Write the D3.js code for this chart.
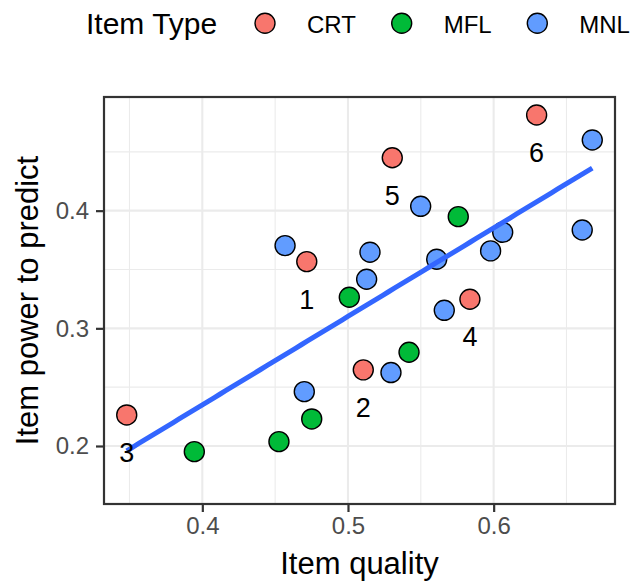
<!DOCTYPE html>
<html><head><meta charset="utf-8">
<script src="https://cdn.jsdelivr.net/npm/d3@7"></script>
<style>
body{margin:0;background:#fff;}
text{font-family:"Liberation Sans",Arial,Helvetica,sans-serif;}
</style></head>
<body><svg id="chart" width="634" height="582"></svg>
<script>
// ---- data ----
const itemTypes = ["CRT", "MFL", "MNL"];
const typeColors = ["#F8766D", "#00BA38", "#619CFF"];
const crtQuality = [0.4717, 0.5105, 0.3481, 0.5837, 0.5304, 0.6295];
const crtPower   = [0.3567, 0.2647, 0.2264, 0.3247, 0.4450, 0.4813];
const crtLabels  = ["1", "2", "3", "4", "5", "6"];
const mflQuality = [0.3945, 0.4526, 0.4751, 0.5009, 0.5419, 0.5757];
const mflPower   = [0.1952, 0.2037, 0.2230, 0.3264, 0.2797, 0.3949];
const mnlQuality = [0.4568, 0.4700, 0.5128, 0.5151, 0.5295, 0.5499, 0.5609, 0.5661, 0.5979, 0.6062, 0.6608, 0.6677];
const mnlPower   = [0.3703, 0.2462, 0.3417, 0.3647, 0.2624, 0.4037, 0.3587, 0.3153, 0.3658, 0.3816, 0.3836, 0.4601];
const xTicks = [0.4, 0.5, 0.6];
const xMinor = [0.35, 0.45, 0.55, 0.65];
const yTicks = [0.2, 0.3, 0.4];
const yMinor = [0.15, 0.25, 0.35, 0.45];
const xTitle = "Item quality";
const yTitle = "Item power to predict";
const legendTitle = "Item Type";

// ---- build points ----
const pts = [];
crtQuality.forEach((q, i) => pts.push({x: q, y: crtPower[i], type: "CRT", label: crtLabels[i]}));
mflQuality.forEach((q, i) => pts.push({x: q, y: mflPower[i], type: "MFL"}));
mnlQuality.forEach((q, i) => pts.push({x: q, y: mnlPower[i], type: "MNL"}));

const svg = d3.select("#chart");
const L = 104, R = 615, T = 97, B = 504;
const x = d3.scaleLinear().domain([0.3325, 0.6833]).range([L, R]);
const y = d3.scaleLinear().domain([0.1507, 0.4966]).range([B, T]);
const color = d3.scaleOrdinal().domain(itemTypes).range(typeColors);

// panel background & grid
svg.append("rect").attr("x", L).attr("y", T).attr("width", R - L).attr("height", B - T).attr("fill", "#fff");
const grid = svg.append("g");
xMinor.forEach(v => grid.append("line").attr("x1", x(v)).attr("x2", x(v)).attr("y1", T).attr("y2", B).attr("stroke", "#EBEBEB").attr("stroke-width", 1.1));
yMinor.filter(v => y(v) > T && y(v) < B).forEach(v => grid.append("line").attr("x1", L).attr("x2", R).attr("y1", y(v)).attr("y2", y(v)).attr("stroke", "#EBEBEB").attr("stroke-width", 1.1));
xTicks.forEach(v => grid.append("line").attr("x1", x(v)).attr("x2", x(v)).attr("y1", T).attr("y2", B).attr("stroke", "#EBEBEB").attr("stroke-width", 2.1));
yTicks.forEach(v => grid.append("line").attr("x1", L).attr("x2", R).attr("y1", y(v)).attr("y2", y(v)).attr("stroke", "#EBEBEB").attr("stroke-width", 2.1));

// points
svg.append("g").selectAll("circle").data(pts).join("circle")
  .attr("cx", d => x(d.x)).attr("cy", d => y(d.y)).attr("r", 10)
  .attr("fill", d => color(d.type)).attr("stroke", "#000").attr("stroke-width", 1.4);

// linear regression
const mx = d3.mean(pts, d => d.x), my = d3.mean(pts, d => d.y);
const sxy = d3.sum(pts, d => (d.x - mx) * (d.y - my));
const sxx = d3.sum(pts, d => (d.x - mx) ** 2);
const slope = sxy / sxx, icpt = my - slope * mx;
const xr = d3.extent(pts, d => d.x);
const linePts = d3.range(0, 81).map(i => { const xv = xr[0] + (xr[1] - xr[0]) * i / 80; return [xv, icpt + slope * xv]; });
svg.append("path").datum(linePts)
  .attr("d", d3.line().x(d => x(d[0])).y(d => y(d[1])))
  .attr("fill", "none").attr("stroke", "#3366FF").attr("stroke-width", 5);

// labels
svg.append("g").selectAll("text").data(pts.filter(d => d.label)).join("text")
  .attr("x", d => x(d.x)).attr("y", d => y(d.y) + 47)
  .attr("text-anchor", "middle").attr("font-size", 27).attr("fill", "#000")
  .text(d => d.label);

// border
svg.append("rect").attr("x", L).attr("y", T).attr("width", R - L).attr("height", B - T)
  .attr("fill", "none").attr("stroke", "#333333").attr("stroke-width", 2.2);

// axes
const xAxis = svg.append("g").attr("transform", `translate(0,${B})`)
  .call(d3.axisBottom(x).tickValues(xTicks).tickFormat(d3.format(".1f")).tickSize(8).tickPadding(5));
const yAxis = svg.append("g").attr("transform", `translate(${L},0)`)
  .call(d3.axisLeft(y).tickValues(yTicks).tickFormat(d3.format(".1f")).tickSize(8).tickPadding(7));
[xAxis, yAxis].forEach(g => {
  g.select(".domain").remove();
  g.selectAll(".tick line").attr("stroke", "#333333").attr("stroke-width", 2.2);
  g.selectAll(".tick text").attr("fill", "#4D4D4D").attr("font-size", 24)
    .attr("font-family", '"Liberation Sans",Arial,sans-serif');
});

// axis titles
svg.append("text").attr("x", (L + R) / 2).attr("y", 574).attr("text-anchor", "middle")
  .attr("font-size", 31).attr("fill", "#000").text(xTitle);
svg.append("text").attr("transform", `translate(38,${(T + B) / 2}) rotate(-90)`)
  .attr("text-anchor", "middle").attr("font-size", 31).attr("fill", "#000").text(yTitle);

// legend
const lg = svg.append("g");
lg.append("text").attr("x", 86).attr("y", 34).attr("font-size", 30).attr("fill", "#000").text(legendTitle);
const legX = [265, 401.7, 537.3];
itemTypes.forEach((t, i) => {
  lg.append("circle").attr("cx", legX[i]).attr("cy", 23.3).attr("r", 10)
    .attr("fill", color(t)).attr("stroke", "#000").attr("stroke-width", 1.4);
  lg.append("text").attr("x", legX[i] + 42).attr("y", 33.3).attr("font-size", 24).attr("fill", "#000").text(t);
});
</script></body></html>
